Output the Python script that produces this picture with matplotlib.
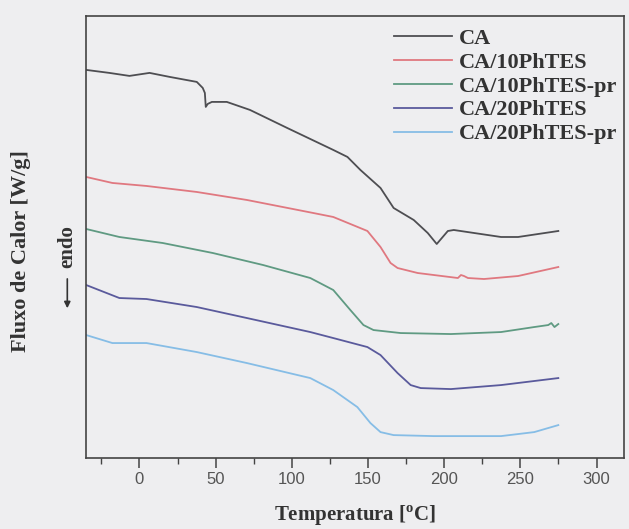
import matplotlib
matplotlib.use("Agg")
import matplotlib.pyplot as plt
from matplotlib.ticker import MultipleLocator, NullLocator

# Data (temperature in °C, heat flow in arbitrary offset units)
ca_T = [-35, -19.8, -6.6, 6.6, 19.8, 37.6, 41.5, 42.9, 43.5, 44.8, 47.5, 57.3, 72.5,
        96.9, 127.2, 136.5, 145.0, 158.2, 166.8, 180.0, 189.2, 195.1, 202.4, 206.3,
        237.3, 248.5, 274.9]
ca_v = [3.88, 3.85, 3.82, 3.85, 3.81, 3.76, 3.70, 3.65, 3.51, 3.54, 3.56, 3.56, 3.48,
        3.30, 3.08, 3.01, 2.88, 2.70, 2.50, 2.38, 2.25, 2.14, 2.27, 2.28,
        2.21, 2.21, 2.27]

ca10_T = [-35, -17.8, 4.6, 37.6, 70.5, 114.0, 127.2, 149.6, 158.2, 164.8, 169.4, 182.6,
          209.0, 211.0, 213.0, 215.6, 226.1, 248.5, 274.9]
ca10_v = [2.81, 2.75, 2.72, 2.66, 2.58, 2.45, 2.41, 2.27, 2.11, 1.95, 1.90, 1.85,
          1.80, 1.83, 1.82, 1.80, 1.79, 1.82, 1.91]

ca10pr_T = [-35, -13.2, 15.2, 48.1, 81.1, 112.1, 127.2, 138.4, 147.0, 153.6, 171.4,
            204.4, 237.3, 259.1, 268.3, 270.3, 272.4, 274.9]
ca10pr_v = [2.29, 2.21, 2.15, 2.05, 1.93, 1.80, 1.68, 1.48, 1.33, 1.28, 1.25,
            1.24, 1.26, 1.31, 1.33, 1.35, 1.31, 1.34]

ca20_T = [-35, -13.2, 4.6, 37.6, 70.5, 112.1, 127.2, 149.6, 158.2, 169.4, 178.0, 184.6,
          204.4, 237.3, 274.9]
ca20_v = [1.73, 1.60, 1.59, 1.51, 1.40, 1.26, 1.20, 1.11, 1.03, 0.85, 0.73, 0.70,
          0.69, 0.73, 0.80]

ca20pr_T = [-35, -17.8, 4.6, 37.6, 70.5, 112.1, 127.2, 143.0, 151.6, 158.2, 166.8,
            193.1, 237.3, 259.1, 274.9]
ca20pr_v = [1.23, 1.15, 1.15, 1.06, 0.95, 0.80, 0.68, 0.51, 0.35, 0.26, 0.23,
            0.22, 0.22, 0.26, 0.33]

labels = ["CA", "CA/10PhTES", "CA/10PhTES-pr", "CA/20PhTES", "CA/20PhTES-pr"]
colors = ["#4e4e52", "#e07880", "#5f9a82", "#5a5a9c", "#86bde6"]
x_ticks = [0, 50, 100, 150, 200, 250, 300]

bg = "#eeeef0"
fig = plt.figure(figsize=(6.29, 5.29), dpi=100, facecolor=bg)
ax = fig.add_axes([0.137, 0.134, 0.855, 0.836], facecolor=bg)

series = [(ca_T, ca_v), (ca10_T, ca10_v), (ca10pr_T, ca10pr_v),
          (ca20_T, ca20_v), (ca20pr_T, ca20pr_v)]
for (t, v), lab, c in zip(series, labels, colors):
    ax.plot(t, v, color=c, lw=1.3, label=lab)

ax.set_xlim(-35, 318)
ax.set_ylim(0, 4.42)
ax.set_xticks(x_ticks)
ax.xaxis.set_minor_locator(MultipleLocator(25))
ax.yaxis.set_major_locator(NullLocator())
ax.tick_params(axis="x", which="major", direction="out", length=7, width=1.1,
               color="#444444", labelsize=12, labelcolor="#555555", pad=3)
ax.tick_params(axis="x", which="minor", direction="out", length=4, width=1.0,
               color="#444444")
for lbl in ax.get_xticklabels():
    lbl.set_family("Liberation Sans")
for s in ax.spines.values():
    s.set_color("#444444")
    s.set_linewidth(1.2)

serif_bold = dict(family="Liberation Serif", weight="bold")
ax.set_xlabel("Temperatura [$^{\\mathregular{o}}$C]", fontsize=15, labelpad=12,
              **serif_bold, color="#333333")
fig.text(0.034, 0.525, "Fluxo de Calor [W/g]", rotation=90, ha="center", va="center",
         fontsize=16, color="#333333", **serif_bold)
fig.text(0.107, 0.534, "endo", rotation=90, ha="center", va="center",
         fontsize=15, color="#333333", **serif_bold)
fig.add_artist(matplotlib.patches.FancyArrowPatch(
    (0.107, 0.478), (0.107, 0.412), transform=fig.transFigure,
    arrowstyle="-|>", mutation_scale=9, color="#333333", lw=1.2))

leg = ax.legend(loc="upper right", bbox_to_anchor=(0.995, 0.982), frameon=False,
                prop=dict(family="Liberation Serif", weight="bold", size=16),
                handlelength=2.65, handletextpad=0.27, labelspacing=0.15,
                borderaxespad=0.0, borderpad=0.2)
for txt in leg.get_texts():
    txt.set_color("#333333")

fig.savefig("out.png", dpi=100, facecolor=bg)
